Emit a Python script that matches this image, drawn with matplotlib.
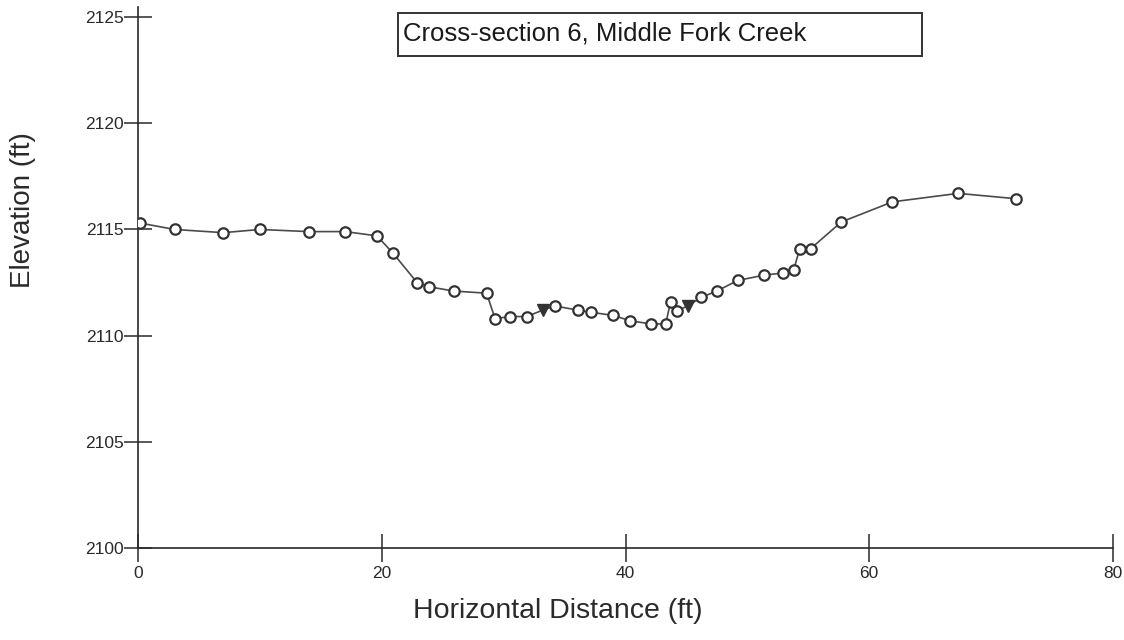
import matplotlib
matplotlib.use("Agg")
import matplotlib.pyplot as plt
from matplotlib.patches import Rectangle

# ---- data ----
dist = [0.2, 3.0, 7.0, 10.0, 14.0, 17.0, 19.6, 20.9, 22.9, 23.9, 25.9, 28.6,
        29.3, 30.5, 31.9, 33.2, 34.2, 36.1, 37.2, 39.0, 40.4, 42.1, 43.3,
        43.7, 44.2, 45.1, 46.2, 47.5, 49.2, 51.4, 52.9, 53.8, 54.3, 55.2,
        57.7, 61.9, 67.3, 72.0]
elev = [2115.3, 2115.0, 2114.85, 2115.0, 2114.9, 2114.9, 2114.7, 2113.9,
        2112.5, 2112.3, 2112.1, 2112.0, 2110.8, 2110.9, 2110.9, 2111.2,
        2111.4, 2111.2, 2111.1, 2110.95, 2110.7, 2110.55, 2110.55, 2111.6,
        2111.15, 2111.4, 2111.8, 2112.1, 2112.6, 2112.85, 2112.95, 2113.1,
        2114.1, 2114.1, 2115.35, 2116.3, 2116.7, 2116.45]
# water-surface markers (filled triangles)
ws_dist = [33.2, 45.1]
ws_elev = [2111.2, 2111.4]

x_ticks = [0, 20, 40, 60, 80]
y_ticks = [2100, 2105, 2110, 2115, 2120, 2125]
title = "Cross-section 6, Middle Fork Creek"
x_label = "Horizontal Distance (ft)"
y_label = "Elevation (ft)"

plt.rcParams['font.family'] = ['Liberation Sans', 'DejaVu Sans']

W, H = 1124, 640
fig = plt.figure(figsize=(W / 100, H / 100), dpi=100)
fig.patch.set_facecolor('white')

ax = fig.add_axes([138 / W, 1 - 548 / H, (1113 - 138) / W, (548 - 6.5) / H])
ax.set_xlim(0, 80)
ax.set_ylim(2100, 2125.5)

ink = '#2a2a2a'
ws_mask = [d in ws_dist for d in dist]
pd = [d for d, m in zip(dist, ws_mask) if not m]
pe = [e for e, m in zip(elev, ws_mask) if not m]

ax.plot(dist, elev, color='#4a4a4a', lw=1.2, zorder=2)
ax.plot(pd, pe, linestyle='none', marker='o', ms=7.5, mfc='white',
        mec='#333333', mew=1.6, zorder=3)
ax.plot(ws_dist, ws_elev, linestyle='none', marker='v', ms=9,
        color='#333333', zorder=4)

for s in ['top', 'right']:
    ax.spines[s].set_visible(False)
for s in ['left', 'bottom']:
    ax.spines[s].set_color(ink)
    ax.spines[s].set_linewidth(1.2)

ax.set_xticks(x_ticks)
ax.set_yticks(y_ticks)
ax.tick_params(axis='both', direction='inout', length=20, width=1.1,
               color=ink, labelcolor=ink, labelsize=12.5)
ax.tick_params(axis='x', pad=3)
ax.tick_params(axis='y', pad=0.5)

fig.text(558 / W, 1 - 611 / H, x_label, ha='center', va='center',
         fontsize=20.5, color=ink)
fig.text(23 / W, 1 - 210 / H, y_label, ha='center', va='center',
         rotation=90, fontsize=20, color=ink)

fig.patches.append(Rectangle((398 / W, 1 - 56 / H), 524 / W, 43 / H,
                             transform=fig.transFigure, fill=False,
                             edgecolor='#333333', linewidth=1.4))
fig.text(403 / W, 1 - 40 / H, title, ha='left', va='baseline',
         fontsize=18.5, color='#1a1a1a')

fig.savefig('out.png', dpi=100, facecolor='white')
